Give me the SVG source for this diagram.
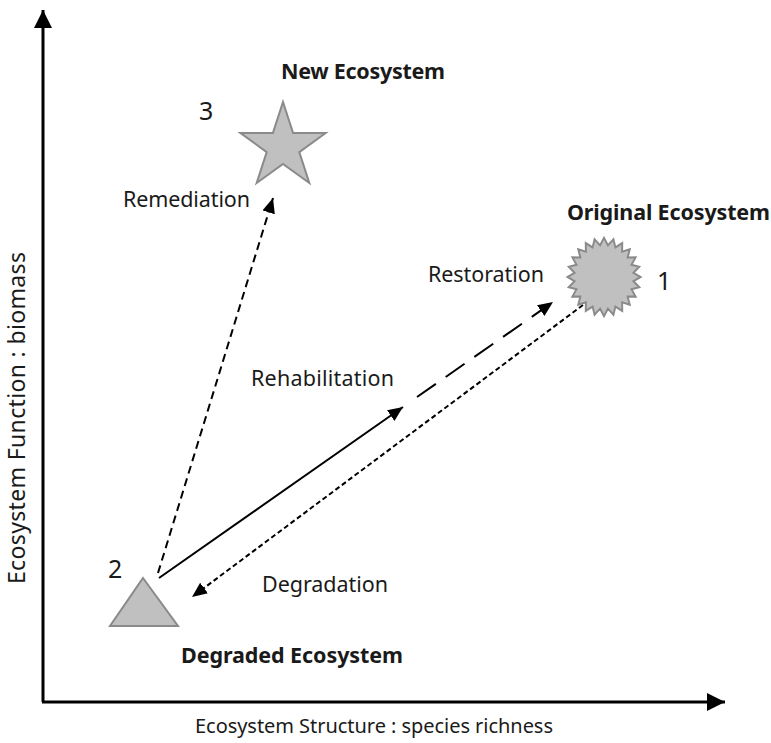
<svg xmlns="http://www.w3.org/2000/svg" width="771" height="743" viewBox="0 0 771 743">
<style>
.lbl{font-family:"Noto Sans","Open Sans","Liberation Sans",sans-serif;font-size:21.5px;fill:#1a1a1a}
.ax{font-size:20px}
.ay{font-size:23px}
.bold{font-weight:bold}
.num{font-family:"Noto Sans","Open Sans","Liberation Sans",sans-serif;font-size:25px;fill:#1a1a1a}
.shape{fill:#c0c0c0;stroke:#8a8a8a;stroke-width:2;stroke-linejoin:miter}
.axis{stroke:#000;stroke-width:3;fill:none}
.conn{stroke:#000;stroke-width:2;fill:none}
</style>
<defs>
<marker id="ah" markerUnits="userSpaceOnUse" markerWidth="16" markerHeight="14" refX="15" refY="6.5" orient="auto">
<path d="M0,0 L15,6.5 L0,13 z" fill="#000"/>
</marker>
<marker id="axh" markerUnits="userSpaceOnUse" markerWidth="20" markerHeight="20" refX="18" refY="9" orient="auto">
<path d="M0,0 L18,9 L0,18 z" fill="#000"/>
</marker>
</defs>
<rect width="771" height="743" fill="#fff"/>
<g id="axes">
<path class="axis" d="M43,702 L43,10" marker-end="url(#axh)"/>
<path class="axis" d="M42,702 L725,702" marker-end="url(#axh)"/>
<text class="lbl ax" x="195" y="733" textLength="358">Ecosystem Structure : species richness</text>
<text class="lbl ay" transform="translate(25,584) rotate(-90)" x="0" y="0" textLength="332">Ecosystem Function : biomass</text>
</g>
<g id="connectors">
<path class="conn" d="M158,573 L273,198" stroke-dasharray="8 5" marker-end="url(#ah)"/>
<path class="conn" d="M159,578 L403,407" marker-end="url(#ah)"/>
<path class="conn" d="M417,397 L553,302" stroke-dasharray="23 12" marker-end="url(#ah)"/>
<path class="conn" d="M583,305 L192,597" stroke-dasharray="5 3" stroke-width="1.8" marker-end="url(#ah)"/>
<text class="lbl" x="123" y="207" textLength="127">Remediation</text>
<text class="lbl" x="251" y="386" textLength="143">Rehabilitation</text>
<text class="lbl" x="428" y="282" textLength="116">Restoration</text>
<text class="lbl" x="262" y="592" textLength="126">Degradation</text>
</g>
<g id="node-new">
<polygon class="shape" points="283,102 293.1,133 325.6,133 299.3,152.1 309.3,183 283,163.9 256.7,183 266.7,152.1 240.4,133 272.9,133"/>
<text class="lbl bold" x="281" y="79" textLength="164">New Ecosystem</text>
<text class="num" x="199" y="120">3</text>
</g>
<g id="node-original">
<polygon class="shape" transform="translate(604,277) scale(0.96,1.03)" points="38,0 30.73,4.05 36.71,9.84 28.64,11.86 32.91,19 24.59,18.87 26.87,26.87 18.87,24.59 19,32.91 11.86,28.64 9.84,36.71 4.05,30.73 0,38 -4.05,30.73 -9.84,36.71 -11.86,28.64 -19,32.91 -18.87,24.59 -26.87,26.87 -24.59,18.87 -32.91,19 -28.64,11.86 -36.71,9.84 -30.73,4.05 -38,0 -30.73,-4.05 -36.71,-9.84 -28.64,-11.86 -32.91,-19 -24.59,-18.87 -26.87,-26.87 -18.87,-24.59 -19,-32.91 -11.86,-28.64 -9.84,-36.71 -4.05,-30.73 0,-38 4.05,-30.73 9.84,-36.71 11.86,-28.64 19,-32.91 18.87,-24.59 26.87,-26.87 24.59,-18.87 32.91,-19 28.64,-11.86 36.71,-9.84 30.73,-4.05"/>
<text class="lbl bold" x="567" y="220" textLength="203">Original Ecosystem</text>
<text class="num" x="657" y="290">1</text>
</g>
<g id="node-degraded">
<polygon class="shape" points="143,578 178,626 110,626"/>
<text class="lbl bold" x="181" y="663" textLength="222">Degraded Ecosystem</text>
<text class="num" x="108" y="578">2</text>
</g>
</svg>
